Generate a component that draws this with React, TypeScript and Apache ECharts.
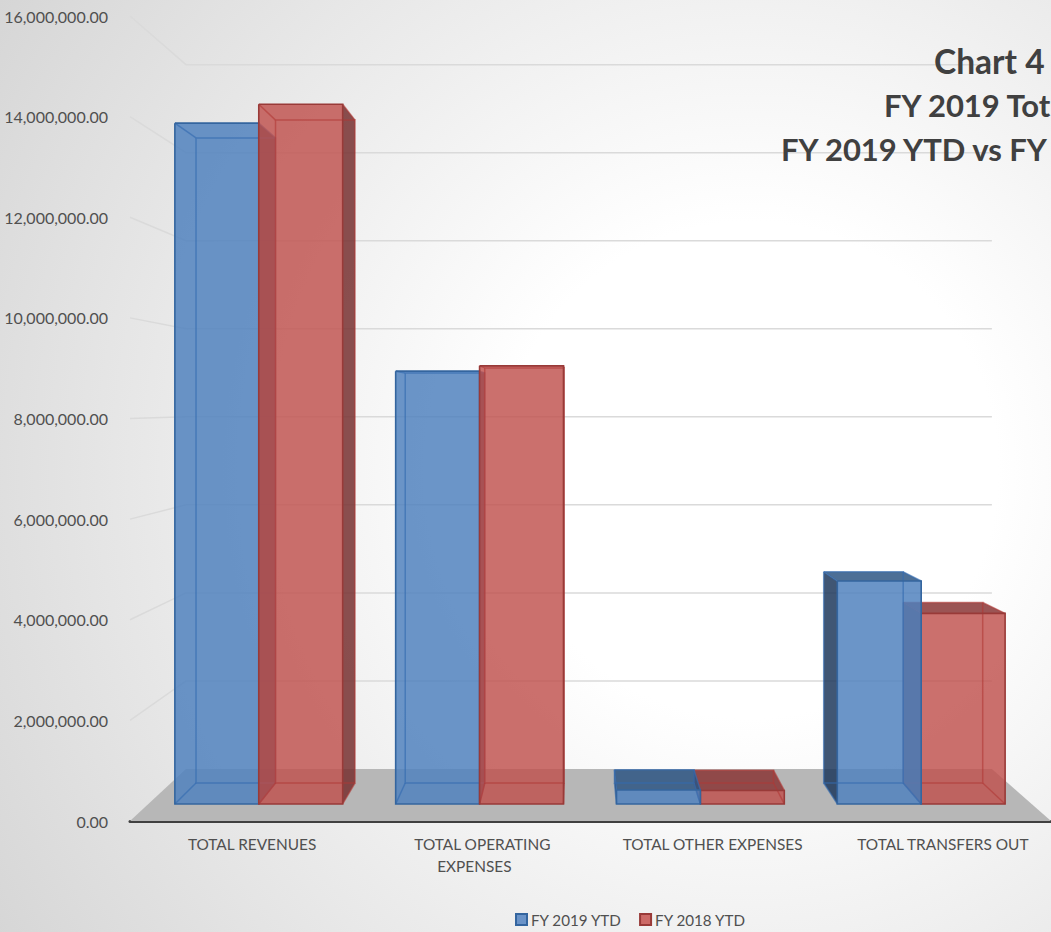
import React, { useEffect, useRef } from "react";
import * as echarts from "echarts";

const categories = [
  "TOTAL REVENUES",
  "TOTAL OPERATING EXPENSES",
  "TOTAL OTHER EXPENSES",
  "TOTAL TRANSFERS OUT",
];
const fy2019 = [14110000, 8970000, 290000, 4620000];
const fy2018 = [14500000, 9080000, 280000, 3950000];
const seriesNames = ["FY 2019 YTD", "FY 2018 YTD"];
const wallTicks = [0, 2000000, 4000000, 6000000, 8000000, 10000000, 12000000, 14000000, 16000000];
const titleLines = ["Chart 4", "FY 2019 Tot", "FY 2019 YTD vs FY"];
const titleLefts = [934, 884, 781];
const titleCentres = [61, 105, 149];
const titleSizes = [33.5, 31, 31];

const FONT = "Lato, 'Noto Sans', sans-serif";
const TEXT = "#505050";

// Depth factors of the 3D box: wall, bar back and bar front, relative to the axis plane.
const VANISH = { x: 578, y: 405 };
const WALL_S = 0.875;
const BACK_S = 0.9087;
const FRONT_S = 0.959;
const BAR_WIDTH = 0.38; // fraction of a category band, per bar

const palette = [
  {
    front: "rgba(79,129,189,0.84)",
    side: "rgba(31,56,92,0.85)",
    top: "rgba(46,86,132,0.85)",
    edge: "#34659f",
    inner: "rgba(52,108,176,0.65)",
  },
  {
    front: "rgba(192,80,77,0.82)",
    side: "rgba(119,48,48,0.85)",
    top: "rgba(137,54,54,0.85)",
    edge: "#993a38",
    inner: "rgba(176,56,54,0.6)",
  },
];

const project = (p: number[], s: number) => [
  VANISH.x + s * (p[0] - VANISH.x),
  VANISH.y + s * (p[1] - VANISH.y),
];

const renderBar = (seriesIdx: number) => (_params: any, api: any) => {
  const cat = api.value(0);
  const val = api.value(1);
  const band = api.size([1, 0])[0];
  const w = band * BAR_WIDTH;
  const [cx, y0] = api.coord([cat, 0]);
  const yTop = api.coord([cat, val])[1];
  const xl = cx + (seriesIdx - 1) * w;
  const xr = xl + w;
  const colors = palette[seriesIdx];

  const corners = (s: number) => ({
    tl: project([xl, yTop], s),
    tr: project([xr, yTop], s),
    br: project([xr, y0], s),
    bl: project([xl, y0], s),
  });
  const f = corners(FRONT_S);
  const b = corners(BACK_S);

  // Bars further from the vanishing point are painted first.
  const z = 2000 - Math.round(Math.abs((xl + xr) / 2 - VANISH.x));
  const face = (points: number[][], fill: string, order: number) => ({
    type: "polygon",
    z2: z + order,
    shape: { points },
    style: { fill, stroke: "none" },
  });
  const edge = (x: number[][], stroke: string, width: number, order: number) => ({
    type: "polyline",
    z2: z + order,
    shape: { points: x },
    style: { fill: "none", stroke, lineWidth: width },
  });

  const children: any[] = [];
  if (xr < VANISH.x) children.push(face([f.tr, b.tr, b.br, f.br], colors.side, 0));
  if (xl > VANISH.x) children.push(face([f.tl, b.tl, b.bl, f.bl], colors.side, 0));
  if (yTop > VANISH.y) children.push(face([f.tl, f.tr, b.tr, b.tl], colors.top, 1));
  children.push(face([f.tl, f.tr, f.br, f.bl], colors.front, 2));
  children.push(edge([b.tl, b.tr, b.br, b.bl, b.tl], colors.inner, 1.5, 3));
  (["tl", "tr", "br", "bl"] as const).forEach((k) =>
    children.push(edge([f[k], b[k]], colors.inner, 1.5, 3))
  );
  children.push(edge([f.tl, f.tr, f.br, f.bl, f.tl], colors.edge, 1.6, 4));
  return { type: "group", children };
};

const renderFloor = (params: any, api: any) => {
  const rect = params.coordSys;
  const y0 = api.coord([0, 0])[1];
  const a = [rect.x, y0];
  const d = [rect.x + rect.width, y0];
  return {
    type: "polygon",
    z2: 1,
    shape: { points: [a, project(a, WALL_S), project(d, WALL_S), d] },
    style: { fill: "#b7b7b7", stroke: "none" },
  };
};

const renderWallLine = (params: any, api: any) => {
  const rect = params.coordSys;
  const y = api.coord([0, api.value(0)])[1];
  const a = [rect.x, y];
  const d = [rect.x + rect.width, y];
  return {
    type: "polyline",
    z2: 2,
    shape: { points: [a, project(a, WALL_S), project(d, WALL_S)] },
    style: { fill: "none", stroke: "#dadada", lineWidth: 1.5 },
  };
};

export default function App() {
  const ref = useRef<HTMLDivElement>(null);

  useEffect(() => {
    document.body.style.margin = "0";
    const chart = echarts.init(ref.current!, undefined, { renderer: "svg" });
    chart.setOption({
      animation: false,
      backgroundColor: new echarts.graphic.RadialGradient(
        750,
        470,
        885,
        [
          { offset: 0, color: "#ffffff" },
          { offset: 0.28, color: "#ffffff" },
          { offset: 1, color: "#d6d6d6" },
        ],
        true
      ),
      grid: { left: 130, right: 0, top: 16, height: 805 },
      legend: {
        left: 510,
        top: 907,
        icon: "rect",
        itemWidth: 11,
        itemHeight: 11,
        itemGap: 17,
        data: seriesNames,
        textStyle: { fontFamily: FONT, fontSize: 15.2, color: TEXT, padding: [0, 0, 0, -1] },
      },
      xAxis: {
        type: "category",
        data: categories,
        axisTick: { show: false },
        axisLine: { lineStyle: { color: "#404040", width: 3 } },
        axisLabel: {
          interval: 0,
          margin: 12,
          fontFamily: FONT,
          fontSize: 15.4,
          lineHeight: 22,
          color: TEXT,
          padding: [0, 0, 0, 14],
          formatter: (v: string) =>
            v === "TOTAL OPERATING EXPENSES" ? "TOTAL OPERATING\n{shift|EXPENSES}" : v,
          rich: {
            shift: {
              fontFamily: FONT,
              fontSize: 15.4,
              lineHeight: 22,
              color: TEXT,
              padding: [0, 16, 0, 0],
            },
          },
        },
      },
      yAxis: {
        type: "value",
        min: 0,
        max: 16000000,
        interval: 2000000,
        axisLine: { show: false },
        axisTick: { show: false },
        splitLine: { show: false },
        axisLabel: {
          margin: 22,
          fontFamily: FONT,
          fontSize: 16,
          color: TEXT,
          padding: [0, 0, 2, 0],
          formatter: (v: number) =>
            v.toLocaleString("en-US", { minimumFractionDigits: 2, maximumFractionDigits: 2 }),
        },
      },
      graphic: titleLines.map((text, i) => ({
        type: "text",
        z: 20,
        x: titleLefts[i],
        y: titleCentres[i],
        style: {
          text,
          fill: "#404040",
          font: `bold ${titleSizes[i]}px ${FONT}`,
          textAlign: "left",
          textVerticalAlign: "middle",
        },
      })),
      series: [
        {
          type: "custom",
          z: 1,
          silent: true,
          coordinateSystem: "cartesian2d",
          data: [[0]],
          renderItem: renderFloor,
          encode: { x: -1, y: 0 },
        },
        {
          type: "custom",
          z: 1,
          silent: true,
          coordinateSystem: "cartesian2d",
          data: wallTicks.slice(1).map((t) => [t]),
          renderItem: renderWallLine,
          encode: { x: -1, y: 0 },
        },
        ...[fy2019, fy2018].map((values, i) => ({
          type: "custom",
          name: seriesNames[i],
          z: 3,
          silent: true,
          coordinateSystem: "cartesian2d",
          itemStyle: { color: i ? "#cc6a67" : "#6a93c8", borderColor: palette[i].edge, borderWidth: 1.5 },
          data: values.map((v, c) => [c, v]),
          renderItem: renderBar(i),
          encode: { x: 0, y: 1 },
        })),
      ],
    });
    return () => chart.dispose();
  }, []);

  return <div ref={ref} style={{ width: 1051, height: 932 }} />;
}
